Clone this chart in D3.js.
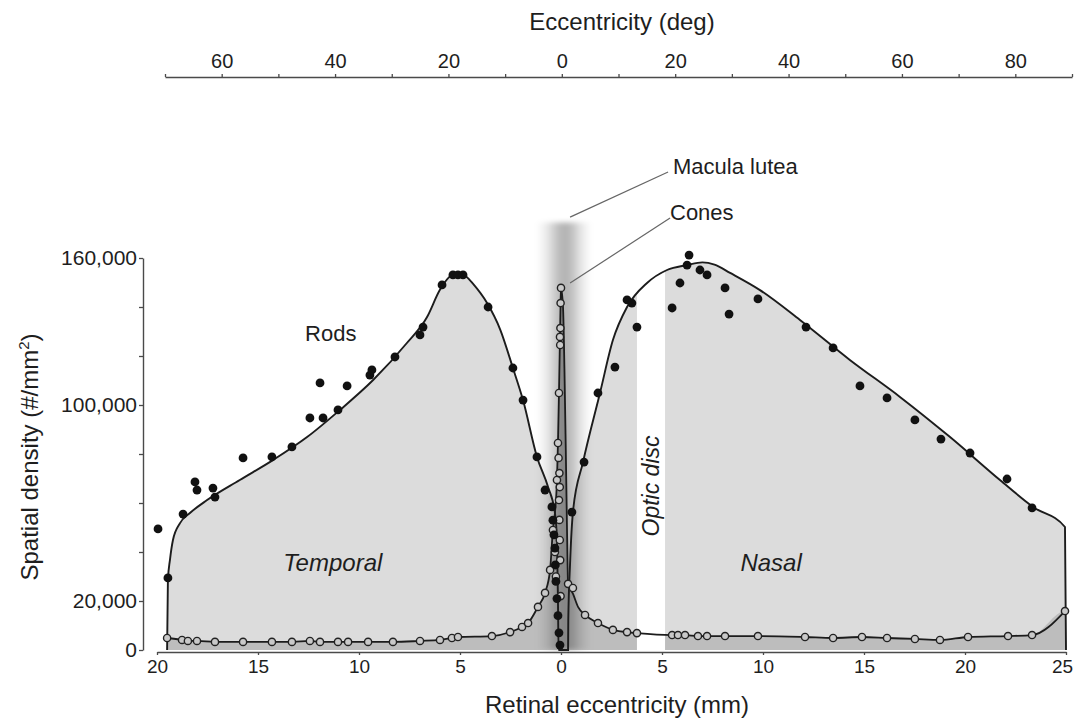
<!DOCTYPE html>
<html>
<head>
<meta charset="utf-8">
<script src="https://cdn.jsdelivr.net/npm/d3@7"></script>
<style>
  body { margin: 0; background: #fff; }
  svg { display: block; }
  text { font-family: "Liberation Sans", Arial, Helvetica, sans-serif; fill: #1e1e1e; }
</style>
</head>
<body>
<svg id="chart" width="1075" height="721"></svg>
<script>
// Photoreceptor density across the horizontal meridian of the human retina.
// Positions in mm from the fovea: temporal side negative, nasal side positive.

// Rod density, smooth fit [mm, cells/mm²]
const rodFit = [
  [-19.5, 0], [-19.46, 28600], [-19.36, 36700], [-19.21, 44900], [-18.86, 51800],
  [-18.37, 55900], [-17.52, 61200], [-15.9, 69400], [-14.26, 77500], [-12.57, 86900],
  [-10.94, 98000], [-9.3, 110200], [-7.63, 125300], [-6.63, 135900], [-6.0, 146900],
  [-5.5, 152500], [-5.1, 154000], [-4.7, 152500], [-4.36, 149500], [-3.66, 141600],
  [-3.0, 130600], [-2.38, 115100], [-1.88, 102000], [-1.19, 78800], [-0.64, 66500],
  [-0.3, 55900], [-0.2, 45000], [-0.15, 20000], [-0.12, 0],
  [0.35, 0], [0.36, 12000], [0.45, 35500], [0.6, 57100], [1.09, 76700],
  [1.93, 104900], [2.57, 126500], [3.27, 140000], [4.26, 149800], [5.25, 155100],
  [6.24, 157100], [7.0, 158200], [7.6, 157300], [8.37, 153900], [9.85, 146900],
  [11.83, 134700], [14.3, 118400], [16.78, 103300], [19.26, 86900], [21.73, 69400],
  [23.37, 58400], [24.95, 50200], [25, 0]
];

// Rod density, individual samples [mm, cells/mm²]
const rodSamples = [
  [-19.95, 49400], [-19.46, 29400], [-18.71, 55500], [-18.12, 68600], [-18.02, 65300],
  [-17.23, 66100], [-17.13, 62400], [-15.74, 78400], [-14.31, 78800], [-13.32, 82900],
  [-12.43, 94700], [-11.93, 109000], [-11.78, 94700], [-11.04, 98000], [-10.59, 107800],
  [-9.46, 112200], [-9.36, 114300], [-8.22, 119600], [-6.98, 128600], [-6.83, 131800],
  [-5.89, 149000], [-5.35, 153100], [-5.1, 153100], [-4.85, 153100], [-3.61, 140000],
  [-2.38, 115100], [-1.88, 102000], [-1.19, 78800], [-0.79, 65300], [-0.45, 58400],
  [-0.4, 53000], [-0.35, 47000], [-0.3, 41600], [-0.28, 34700], [-0.25, 28000],
  [-0.2, 21000], [-0.15, 14000], [-0.1, 7000], [-0.05, 2000],
  [0.54, 56300], [1.14, 76700], [1.83, 104900], [2.67, 115500], [3.27, 142900],
  [3.51, 141600], [3.76, 131800], [5.5, 139600], [5.89, 149800], [6.24, 157100],
  [6.34, 161200], [6.88, 155100], [7.23, 153100], [8.12, 147800], [8.32, 137100],
  [9.75, 143300], [12.13, 131800], [13.47, 123300], [14.8, 107800], [16.14, 102900],
  [17.52, 93900], [18.81, 86100], [20.25, 80400], [22.08, 69800], [23.32, 58000]
];

// Cone density, connected curve [mm, cells/mm²]
const coneCurve = [
  [-19.5, 4900], [-18.76, 4100], [-18.47, 3700], [-18.02, 3700], [-17.13, 3300],
  [-15.74, 3300], [-14.31, 3300], [-13.32, 3300], [-12.43, 3700], [-11.93, 3300],
  [-11.04, 3300], [-10.54, 3300], [-9.55, 3300], [-8.32, 3300], [-6.98, 3700],
  [-5.99, 4100], [-5.4, 4900], [-5.1, 5300], [-3.42, 5700], [-2.52, 7300],
  [-1.93, 9400], [-1.63, 11000], [-1.14, 17600], [-0.79, 23300], [-0.54, 32700],
  [-0.4, 49000], [-0.3, 56000], [-0.2, 69400], [-0.15, 84500], [-0.1, 104900],
  [-0.05, 127800], [-0.02, 141600], [0, 147800],
  [0.1, 140000], [0.17, 115000], [0.24, 80000], [0.3, 48000], [0.35, 27000],
  [0.59, 23000], [0.85, 17500], [1.19, 14300], [1.83, 11000], [2.57, 8200],
  [3.27, 7300], [3.76, 6900], [5.5, 6100], [5.79, 6100], [6.14, 6100],
  [6.78, 5700], [7.23, 5700], [8.12, 5700], [9.75, 5700], [12.08, 5300],
  [13.47, 4900], [14.9, 5300], [16.14, 4900], [17.52, 4500], [18.76, 4100],
  [20.15, 5300], [22.13, 5700], [23.32, 6100], [24.95, 15900]
];

// Cone density, individual samples [mm, cells/mm²]
const coneSamples = [
  [-19.5, 4900], [-18.76, 4100], [-18.47, 3700], [-18.02, 3700], [-17.13, 3300],
  [-15.74, 3300], [-14.31, 3300], [-13.32, 3300], [-12.43, 3700], [-11.93, 3300],
  [-11.04, 3300], [-10.54, 3300], [-9.55, 3300], [-8.32, 3300], [-6.98, 3700],
  [-5.99, 4100], [-5.4, 4900], [-5.1, 5300], [-3.42, 5700], [-2.52, 7300],
  [-1.93, 9400], [-1.63, 11000], [-1.14, 17600], [-0.79, 23300], [-0.54, 32700],
  [-0.4, 49000], [-0.3, 40000], [-0.25, 30000], [-0.2, 69400], [-0.15, 84500],
  [-0.12, 78400], [-0.1, 104900], [-0.08, 72200], [-0.06, 66500], [-0.05, 127800],
  [-0.04, 124500], [-0.03, 131400], [-0.02, 141600], [0, 147800],
  [-0.1, 61200], [-0.08, 53100], [-0.06, 44900], [-0.04, 36700], [-0.02, 22000],
  [0.35, 27000], [0.59, 25300], [1.19, 14300], [1.83, 11000], [2.57, 8200],
  [3.27, 7300], [3.76, 6900], [5.5, 6100], [5.79, 6100], [6.14, 6100],
  [6.78, 5700], [7.23, 5700], [8.12, 5700], [9.75, 5700], [12.08, 5300],
  [13.47, 4900], [14.9, 5300], [16.14, 4900], [17.52, 4500], [18.76, 4100],
  [20.15, 5300], [22.13, 5700], [23.32, 6100], [24.95, 15900]
];

// Anatomical zones [mm]
const opticDisc = [3.76, 5.15];
const macula = [-1.2, 1.5];

// Axis ticks
const mmTicks = [-20, -15, -10, -5, 0, 5, 10, 15, 20, 25];
const degTicks = d3.range(-70, 91, 10);
const degLabels = [-60, -40, -20, 0, 20, 40, 60, 80];
const densityTicks = d3.range(0, 160001, 20000);
const densityLabels = [0, 20000, 100000, 160000];

const svg = d3.select("#chart");

const x = d3.scaleLinear().domain([-20, 25]).range([157, 1066]);
const y = d3.scaleLinear().domain([0, 160000]).range([650, 258]);
const xDeg = d3.scaleLinear().domain([-70, 90]).range([165, 1072]);

const defs = svg.append("defs");
const grad = defs.append("linearGradient").attr("id", "maculaShade")
  .attr("x1", 0).attr("x2", 1).attr("y1", 0).attr("y2", 0);
[[0, 0], [0.18, 0.08], [0.38, 0.24], [0.5, 0.3], [0.62, 0.26], [0.82, 0.09], [1, 0]].forEach(([o, a]) =>
  grad.append("stop").attr("offset", o).attr("stop-color", "#000").attr("stop-opacity", a));
defs.append("filter").attr("id", "soft").attr("x", "-20%").attr("y", "-5%")
  .attr("width", "140%").attr("height", "110%")
  .append("feGaussianBlur").attr("stdDeviation", 2.5);

const px = d => x(d[0]), py = d => y(d[1]);

// Filled regions under the rod and cone curves
const rodArea = d3.area().x(px).y0(y(0)).y1(py).curve(d3.curveMonotoneX);
const coneArea = d3.area().x(px).y0(y(0)).y1(py).curve(d3.curveMonotoneX);
svg.append("path").attr("d", rodArea(rodFit)).attr("fill", "#dcdcdc");
svg.append("path").attr("d", coneArea([...coneCurve, [25, 0]])).attr("fill", "#bdbdbd");

// Optic disc: no photoreceptors
svg.append("rect")
  .attr("x", x(opticDisc[0])).attr("width", x(opticDisc[1]) - x(opticDisc[0]))
  .attr("y", y(160000)).attr("height", y(0) - y(160000) + 1)
  .attr("fill", "#fff");

// Macula lutea shading
svg.append("rect")
  .attr("x", x(macula[0])).attr("width", x(macula[1]) - x(macula[0]))
  .attr("y", y(174500)).attr("height", y(0) - y(174500))
  .attr("fill", "url(#maculaShade)").attr("filter", "url(#soft)");

// Leader lines
const leaders = [
  { from: [0.45, 176700], to: [5.3, 195100] },
  { from: [0.45, 149800], to: [5.4, 176300] }
];
svg.selectAll("line.leader").data(leaders).join("line").attr("class", "leader")
  .attr("x1", d => x(d.from[0])).attr("y1", d => y(d.from[1]))
  .attr("x2", d => x(d.to[0])).attr("y2", d => y(d.to[1]))
  .attr("stroke", "#666").attr("stroke-width", 1.2);

// Curves
const line = d3.line().x(px).y(py).curve(d3.curveMonotoneX);
svg.append("path").attr("d", line(rodFit)).attr("fill", "none")
  .attr("stroke", "#1c1c1c").attr("stroke-width", 1.9);
svg.append("path").attr("d", line(coneCurve)).attr("fill", "none")
  .attr("stroke", "#1c1c1c").attr("stroke-width", 1.8);

// Markers
svg.append("g").selectAll("circle").data(coneSamples).join("circle")
  .attr("cx", px).attr("cy", py).attr("r", 3.6)
  .attr("fill", "#c9c9c9").attr("stroke", "#222").attr("stroke-width", 1.4);
svg.append("g").selectAll("circle").data(rodSamples).join("circle")
  .attr("cx", px).attr("cy", py).attr("r", 4.4).attr("fill", "#111");

// Axes
function styleAxis(g, size) {
  g.select(".domain").attr("stroke", "#4a4a4a").attr("stroke-width", 1.4);
  g.selectAll(".tick line").attr("stroke", "#4a4a4a").attr("stroke-width", 1.3);
  g.selectAll(".tick text").attr("font-size", size).attr("fill", "#1e1e1e")
    .attr("font-family", "Liberation Sans, Arial, sans-serif");
}

svg.append("g").attr("transform", `translate(0,${y(0) + 2})`)
  .call(d3.axisBottom(x).tickValues(mmTicks).tickFormat(d => Math.abs(d))
    .tickSize(3).tickSizeOuter(0).tickPadding(5))
  .call(g => styleAxis(g, 19))
  .call(g => g.selectAll(".tick text").filter(d => d === 25).attr("dx", -4));

svg.append("g").attr("transform", `translate(${x(-20) - 14},0)`)
  .call(d3.axisLeft(y).tickValues(densityTicks)
    .tickFormat(d => densityLabels.includes(d) ? d3.format(",")(d) : "")
    .tickSize(4).tickSizeOuter(0).tickPadding(2))
  .call(g => styleAxis(g, 21));

svg.append("g").attr("transform", "translate(0,77)")
  .call(d3.axisTop(xDeg).tickValues(degTicks)
    .tickFormat(d => degLabels.includes(d) ? Math.abs(d) : "")
    .tickSize(3).tickSizeOuter(0).tickPadding(6))
  .call(g => styleAxis(g, 20));

// Axis titles
svg.append("text").attr("x", 622).attr("y", 30).attr("text-anchor", "middle")
  .attr("font-size", 24).text("Eccentricity (deg)");
svg.append("text").attr("x", 617).attr("y", 713).attr("text-anchor", "middle")
  .attr("font-size", 24).text("Retinal eccentricity (mm)");
const yt = svg.append("text").attr("transform", "translate(38,457) rotate(-90)")
  .attr("text-anchor", "middle").attr("font-size", 24);
yt.append("tspan").text("Spatial density (#/mm");
yt.append("tspan").attr("font-size", 15).attr("dy", -9).text("2");
yt.append("tspan").attr("dy", 9).text(")");

// Region and curve labels
svg.append("text").attr("x", x(-11.4)).attr("y", 341).attr("text-anchor", "middle")
  .attr("font-size", 22).text("Rods");
svg.append("text").attr("x", 673).attr("y", 174).attr("font-size", 22).text("Macula lutea");
svg.append("text").attr("x", 670).attr("y", 220).attr("font-size", 22).text("Cones");
svg.append("text").attr("x", x(-11.3)).attr("y", 571).attr("text-anchor", "middle")
  .attr("font-size", 24).attr("font-style", "italic").attr("fill", "#333").text("Temporal");
svg.append("text").attr("x", x(10.4)).attr("y", 571).attr("text-anchor", "middle")
  .attr("font-size", 24).attr("font-style", "italic").attr("fill", "#333").text("Nasal");
svg.append("text")
  .attr("transform", `translate(${(x(opticDisc[0]) + x(opticDisc[1])) / 2 + 8},486) rotate(-90)`)
  .attr("text-anchor", "middle").attr("font-size", 23).attr("font-style", "italic")
  .attr("fill", "#333").text("Optic disc");
</script>
</body>
</html>
